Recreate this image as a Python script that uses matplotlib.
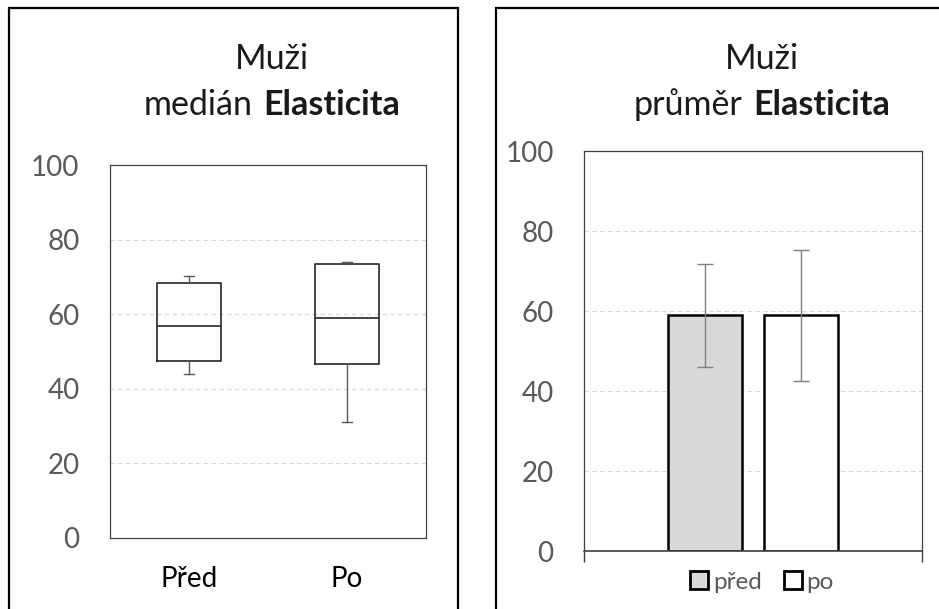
import matplotlib.pyplot as plt
from matplotlib.patches import Rectangle, Patch

plt.rcParams['font.family'] = ['Lato', 'DejaVu Sans']

# levý graf - krabicový graf (medián)
skupiny = ['Před', 'Po']
horni_vous = [70.2, 74.0]
q3 = [68.4, 73.5]
median = [56.8, 59.1]
q1 = [47.5, 46.7]
dolni_vous = [44.0, 31.0]

# pravý graf - průměr se směrodatnou odchylkou
serie = ['před', 'po']
prumer = [58.9, 58.9]
odchylka = [12.8, 16.3]
barvy = ['#d9d9d9', 'white']

y_ticks = [0, 20, 40, 60, 80, 100]

W, H = 939, 609
fig = plt.figure(figsize=(W / 100, H / 100), dpi=100)


def fx(px):
    return px / W


def fy(py):
    return 1 - py / H


# rámečky panelů
for x0, x1 in [(9, 458), (496, 980)]:
    fig.patches.append(Rectangle((fx(x0), fy(660)), (x1 - x0) / W, (660 - 8) / H,
                                 transform=fig.transFigure, fill=False,
                                 lw=1.6, ec='black'))

seda = '#595959'
ram = '#404040'

# --- levý graf ---
ax1 = fig.add_axes([fx(110), fy(538), 316 / W, 373 / H])
stats = []
for s, lo, a, m, b, hi in zip(skupiny, dolni_vous, q1, median, q3, horni_vous):
    stats.append(dict(label=s, whislo=lo, q1=a, med=m, q3=b, whishi=hi))
ax1.bxp(stats, positions=[1, 2], widths=0.4, showfliers=False, capwidths=0.064,
        boxprops=dict(color='#262626', lw=1.2),
        medianprops=dict(color='#262626', lw=1.2),
        whiskerprops=dict(color=seda, lw=1),
        capprops=dict(color=seda, lw=1))
ax1.set_xlim(0.5, 2.5)
ax1.set_ylim(0, 100)
ax1.set_yticks(y_ticks)
ax1.grid(axis='y', color='#d9d9d9', ls=(0, (4, 3)), lw=0.8)
ax1.set_axisbelow(True)
for sp in ax1.spines.values():
    sp.set_color(ram)
    sp.set_linewidth(0.9)
ax1.tick_params(axis='y', length=0, labelsize=20, labelcolor=seda, pad=22)
ax1.tick_params(axis='x', length=0, labelsize=20, labelcolor='black', pad=20)

# --- pravý graf ---
ax2 = fig.add_axes([fx(584.3), fy(551), 337.4 / W, 400 / H])
sirka = 0.22
mezera = 0.063
handles = []
for i in range(len(serie)):
    x = (i - 0.5) * (sirka + mezera)
    ax2.bar(x, prumer[i], sirka, color=barvy[i], edgecolor='black', lw=1.8,
            yerr=odchylka[i],
            error_kw=dict(ecolor='#7f7f7f', elinewidth=1, capsize=5.5, capthick=1))
    handles.append(Patch(facecolor=barvy[i], edgecolor='black', lw=2, label=serie[i]))
ax2.set_xlim(-0.5, 0.5)
ax2.set_ylim(0, 100)
ax2.set_yticks(y_ticks)
ax2.set_xticks([-0.5, 0.5])
ax2.set_xticklabels(['', ''])
ax2.grid(axis='y', color='#d9d9d9', ls=(0, (4, 3)), lw=0.8)
ax2.set_axisbelow(True)
for sp in ax2.spines.values():
    sp.set_color(ram)
    sp.set_linewidth(0.9)
ax2.spines['bottom'].set_linewidth(1.2)
ax2.tick_params(axis='y', length=0, labelsize=20, labelcolor=seda, pad=22)
ax2.tick_params(axis='x', length=8, width=1, color=ram, direction='out')

fig.legend(handles=handles, loc='center', bbox_to_anchor=(fx(762), fy(582)),
           ncol=2, frameon=False, fontsize=17.5, handlelength=0.75, handleheight=0.75,
           handletextpad=0.2, columnspacing=0.9, labelcolor=seda)

# --- titulky ---
tituly = []
for cx, slovo in [(272, 'medián'), (762, 'průměr')]:
    fig.text(fx(cx), fy(69), 'Muži', ha='center', va='baseline', fontsize=24.5,
             color='#1a1a1a')
    t1 = fig.text(0, fy(115), slovo, ha='left', va='baseline', fontsize=24.5,
                  color='#1a1a1a')
    t2 = fig.text(0, fy(115), 'Elasticita', ha='left', va='baseline', fontsize=24.5,
                  fontweight='bold', color='#1a1a1a')
    tituly.append((cx, t1, t2))

fig.canvas.draw()
r = fig.canvas.get_renderer()
for cx, t1, t2 in tituly:
    w1 = t1.get_window_extent(r).width
    w2 = t2.get_window_extent(r).width
    mez = 11
    start = cx - (w1 + mez + w2) / 2
    t1.set_x(fx(start))
    t2.set_x(fx(start + w1 + mez))

fig.savefig('out.png', dpi=100)
